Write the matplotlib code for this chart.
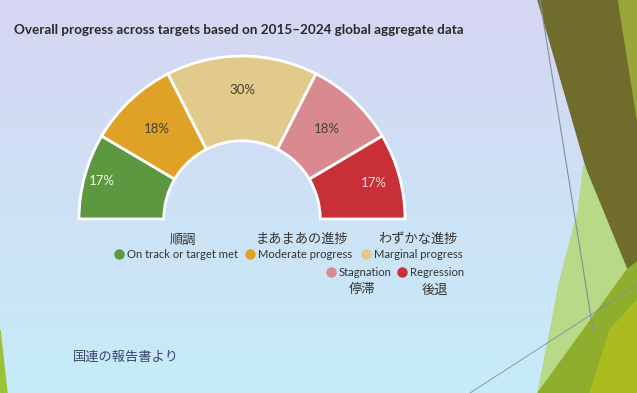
import numpy as np
import matplotlib.pyplot as plt
from matplotlib.patches import Polygon

plt.rcParams['font.family'] = ['Lato', 'Noto Sans CJK JP', 'DejaVu Sans']

# data
categories = ['On track or target met', 'Moderate progress', 'Marginal progress',
              'Stagnation', 'Regression']
jp_names = ['順調', 'まあまあの進捗', 'わずかな進捗', '停滞', '後退']
shares = [17, 18, 30, 18, 17]
colors = ['#5b9840', '#dfa126', '#e2c98c', '#d98a91', '#c92f36']
label_colors = ['#f2f2f2', '#4a4030', '#4a4030', '#4a4030', '#f2e0e0']

title = 'Overall progress across targets based on 2015\u20132024 global aggregate data'
source_note = '国連の報告書より'

W, H = 637, 393
fig = plt.figure(figsize=(W / 100, H / 100), dpi=100)

# slide background (pixel coordinates)
bg = fig.add_axes([0, 0, 1, 1])
bg.set_xlim(0, W)
bg.set_ylim(H, 0)
bg.axis('off')
top = np.array([214, 214, 242]) / 255
bot = np.array([198, 236, 248]) / 255
t = np.linspace(0, 1, 200)[:, None, None]
grad = top * (1 - t) + bot * t
bg.imshow(np.repeat(grad, 2, axis=1), extent=[0, W, H, 0], aspect='auto', zorder=0)

# green decoration on the right of the photographed slide
bg.add_patch(Polygon([(538, 0), (637, 0), (637, 393), (600, 393), (627, 270), (590, 180)],
                     closed=True, color='#6f6c2c', zorder=1))
bg.add_patch(Polygon([(618, 0), (637, 0), (637, 120)], closed=True, color='#9aa53a', zorder=1))
bg.add_patch(Polygon([(584, 165), (590, 180), (627, 270), (538, 393), (560, 280), (578, 212)],
                     closed=True, color='#b8d987', zorder=1))
bg.add_patch(Polygon([(627, 270), (637, 262), (637, 393), (538, 393)],
                     closed=True, color='#8fae2e', zorder=1))
bg.add_patch(Polygon([(610, 330), (637, 300), (637, 393), (590, 393)],
                     closed=True, color='#a9bb1e', zorder=1))
bg.add_patch(Polygon([(0, 330), (7, 393), (0, 393)], closed=True, color='#9cc23a', zorder=1))
bg.plot([540, 593], [0, 330], color='#7f8fa0', lw=0.8, zorder=2)
bg.plot([470, 637], [393, 285], color='#7f8fa0', lw=0.6, zorder=2)

bg.text(14, 30, title, fontsize=9.7, fontweight='bold', color='#2a2a2a', va='center')

# half donut
cx, cy, R = 242, 219, 163
pie_ax = fig.add_axes([(cx - R) / W, (H - cy - R) / H, 2 * R / W, 2 * R / H])
vals = shares + [sum(shares)]
cols = colors + ['none']
wedges, _ = pie_ax.pie(vals, colors=cols, startangle=180, counterclock=False,
                       radius=1, wedgeprops=dict(width=0.52, edgecolor='white', linewidth=2))
wedges[-1].set_edgecolor('none')
pie_ax.set_xlim(-1, 1)
pie_ax.set_ylim(-1, 1)
pie_ax.axis('off')

# percentage labels
total = sum(vals)
ang = 180.0
label_r = [0.89, 0.76, 0.79, 0.76, 0.84]
for s, lc, r in zip(shares, label_colors, label_r):
    mid = np.deg2rad(ang - s / total * 360 / 2)
    pie_ax.text(r * np.cos(mid), r * np.sin(mid), f'{s}%', ha='center', va='center',
                fontsize=9.5, color=lc)
    ang -= s / total * 360

# legend
leg_pos = [(119, 254), (250, 254), (366, 254), (331, 272), (402, 272)]
jp_pos = [(183, 240), (302, 239), (418, 239), (362, 290), (435, 290)]
for name, jp, c, (x, y), (jx, jy) in zip(categories, jp_names, colors, leg_pos, jp_pos):
    bg.scatter([x], [y], s=42, color=c, zorder=3)
    bg.text(x + 8, y, name, fontsize=8.1, color='#333333', va='center', ha='left')
    bg.text(jx, jy, jp, fontsize=9.5, color='#333333', va='center', ha='center',
            family=['Noto Sans CJK JP', 'DejaVu Sans'])

bg.text(73, 357, source_note, fontsize=9.5, color='#3c4470', va='center',
        family=['Noto Sans CJK JP', 'DejaVu Sans'])

fig.savefig('out.png', dpi=100)
